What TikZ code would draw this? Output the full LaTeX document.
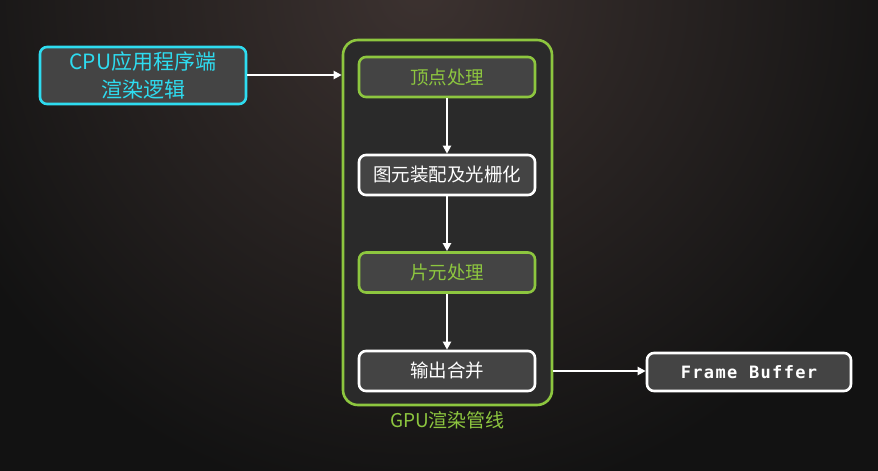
\documentclass[tikz,border=0pt]{standalone}
\usepackage{fontspec}
\setmainfont{Noto Sans CJK SC}
\newfontfamily\monof[LetterSpace=8]{DejaVu Sans Mono}
\usetikzlibrary{arrows.meta}
\definecolor{bgdark}{HTML}{121212}
\definecolor{bglight}{HTML}{3C3230}
\definecolor{boxfill}{HTML}{444444}
\definecolor{contfill}{HTML}{2A2A2A}
\definecolor{gr}{HTML}{8DC63F}
\definecolor{cy}{HTML}{2EDCF0}
\tikzset{
  x=1pt,y=-1pt,
  basebox/.style={draw, line width=2.6pt, rounded corners=7pt, fill=boxfill, inner sep=0pt, font=\fontsize{18.5}{22}\selectfont},
  greenbox/.style={basebox, draw=gr, text=gr, minimum width=176pt, minimum height=40pt},
  whitebox/.style={basebox, draw=white, text=white, minimum width=176pt, minimum height=40pt},
  arr/.style={draw=white, line width=2pt, -{Triangle[length=8pt,width=8pt]}},
}
\begin{document}
\begin{tikzpicture}
\useasboundingbox (0,0) rectangle (878,471);
\begin{scope}
\clip (0,0) rectangle (878,471);
\fill[bgdark] (0,0) rectangle (878,471);
\shade[inner color=bglight, outer color=bgdark] (420,-10) circle (520);
\end{scope}
% container
\node[draw=gr, line width=2.6pt, rounded corners=15pt, fill=contfill, minimum width=209pt, minimum height=365pt, inner sep=0pt] (gpu) at (447.5,222.5) {};
\node[text=gr, font=\fontsize{19}{22}\selectfont] (gpulabel) at (447.5,420) {GPU渲染管线};
% CPU box
\node[basebox, draw=cy, text=cy, minimum width=206pt, minimum height=57pt, align=center, font=\fontsize{21}{28}\selectfont] (cpu) at (143,75.5) {CPU应用程序端\\渲染逻辑};
% pipeline
\node[greenbox] (v) at (447,77) {顶点处理};
\node[whitebox] (p) at (447,175) {图元装配及光栅化};
\node[greenbox] (f) at (447,272.5) {片元处理};
\node[whitebox] (o) at (447,371) {输出合并};
\node[basebox, draw=white, text=white, minimum width=204pt, minimum height=38pt, font=\monof\bfseries\fontsize{17}{20}\selectfont] (fb) at (749,372) {Frame Buffer};
% arrows
\draw[arr] (cpu.east |- 0,75) -- (gpu.west |- 0,75);
\draw[arr] (v) -- (p);
\draw[arr] (p) -- (f);
\draw[arr] (f) -- (o);
\draw[arr] (gpu.east |- 0,371) -- (fb.west |- 0,371);
\end{tikzpicture}
\end{document}
